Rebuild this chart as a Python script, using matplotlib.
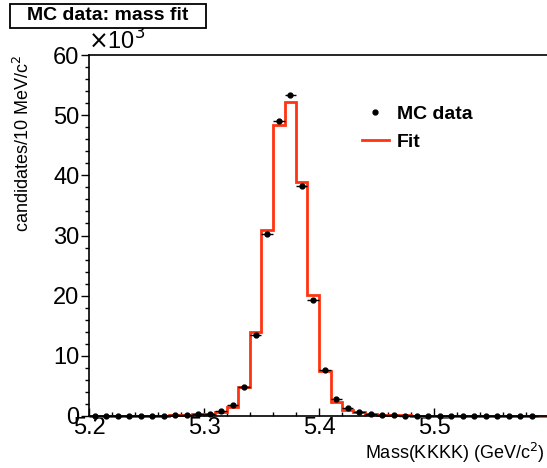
import numpy as np
import matplotlib.pyplot as plt
from matplotlib.lines import Line2D
from matplotlib.patches import Rectangle

plt.rcParams['font.family'] = ['Liberation Sans', 'DejaVu Sans']

# bin edges 5.20 .. 5.60 GeV, 10 MeV wide
edges = np.round(np.arange(5.20, 5.6001, 0.01), 3)
centers = edges[:-1] + 0.005

# MC data, candidates per bin (x10^3); last bin empty (not drawn)
data = [0.02, 0.02, 0.03, 0.03, 0.04, 0.05, 0.07, 0.10, 0.15, 0.25,
        0.40, 0.80, 1.80, 4.90, 13.4, 30.3, 49.0, 53.4, 38.2, 19.2,
        7.60, 2.80, 1.30, 0.60, 0.30, 0.18, 0.12, 0.08, 0.06, 0.05,
        0.04, 0.03, 0.03, 0.03, 0.02, 0.02, 0.02, 0.02, 0.02, np.nan]

# fitted histogram (x10^3)
fit = [0.03, 0.03, 0.04, 0.04, 0.05, 0.06, 0.08, 0.11, 0.16, 0.25,
       0.40, 0.70, 1.55, 4.80, 13.9, 30.9, 48.3, 52.2, 38.9, 20.1,
       7.55, 2.30, 1.00, 0.60, 0.35, 0.20, 0.13, 0.09, 0.07, 0.06,
       0.05, 0.05, 0.04, 0.04, 0.04, 0.03, 0.03, 0.03, 0.03, 0.03]

W, H = 547, 468
fig = plt.figure(figsize=(W / 100, H / 100), dpi=100)
ax = fig.add_axes([89 / W, 52 / H, (549 - 89) / W, (416 - 55) / H])

red = '#ff3311'
ax.stairs(fit, edges, color=red, lw=2, zorder=2, clip_on=False)
ax.errorbar(centers, data, xerr=0.005, fmt='o', ms=3.5, color='black',
            elinewidth=1, capsize=0, zorder=3, clip_on=False)

ax.set_xlim(5.2, 5.6)
ax.set_ylim(0, 60)
ax.set_xticks([5.2, 5.3, 5.4, 5.5])
ax.set_xticklabels(['5.2', '5.3', '5.4', '5.5'])
ax.set_xticks(np.arange(5.2, 5.6, 0.02), minor=True)
ax.set_yticks(np.arange(0, 61, 10))
ax.set_yticks(np.arange(0, 61, 2), minor=True)
ax.tick_params(axis='both', which='major', labelsize=17, length=6, width=1, pad=1)
ax.tick_params(axis='both', which='minor', length=3, width=1)
ax.tick_params(axis='x', which='both', direction='in')
for s in ax.spines.values():
    s.set_linewidth(1.2)

ax.text(-0.002, 1.0, r'$\times$10$^3$', transform=ax.transAxes, fontsize=17,
        ha='left', va='bottom')

ax.set_ylabel(r'candidates/10 MeV/c$^2$', fontsize=13, loc='top', labelpad=14)
fig.text(545 / W, 1 - 453 / H, r'Mass(KKKK) (GeV/c$^2$)', fontsize=13,
         ha='right', va='center')

handles = [Line2D([], [], ls='none', marker='o', ms=3.5, color='black'),
           Line2D([], [], color=red, lw=2)]
ax.legend(handles, ['MC data', 'Fit'], loc='upper left',
          bbox_to_anchor=(0.555, 0.91), frameon=False,
          prop={'weight': 'bold', 'size': 14}, handlelength=1.4,
          labelspacing=0.55, handletextpad=0.4)

fig.add_artist(Rectangle((10 / W, 1 - 28 / H), 196 / W, 24 / H,
                         transform=fig.transFigure, fc='white', ec='black',
                         lw=1.3))
fig.text(108 / W, 1 - 16 / H, 'MC data: mass fit', fontsize=14, weight='bold',
         ha='center', va='center')

fig.savefig('out.png', dpi=100)
